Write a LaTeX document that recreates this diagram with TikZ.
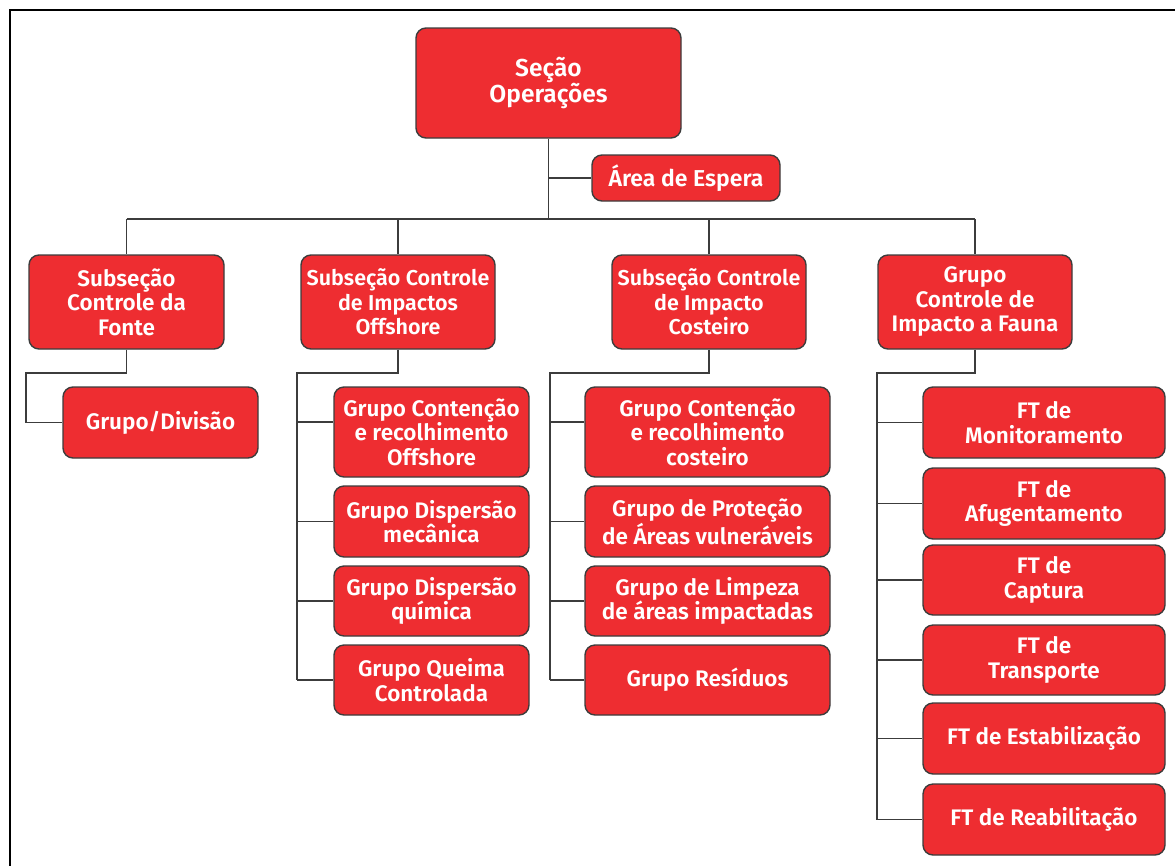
\documentclass[tikz,border=0pt]{standalone}
\usepackage{fontspec}
\setmainfont{Fira Sans}[UprightFont={* SemiBold}]
\definecolor{boxred}{HTML}{EE2D31}
\definecolor{edge}{HTML}{3C3C3C}
\begin{document}
\begin{tikzpicture}[x=1pt,y=-1pt,
  box/.style={draw=edge,line width=1.4pt,fill=boxred,rounded corners=10pt,
    text=white,align=center,inner sep=0pt,
    font=\fontsize{22.5}{24.5}\selectfont},
  link/.style={draw=edge,line width=1.2pt}]
\useasboundingbox (0,0) rectangle (1175,865);
\draw[line width=2.2pt,black] (10,880) -- (10,10) -- (1190,10);

% level 1
\node[box,minimum width=265,minimum height=110,font=\fontsize{24.5}{25.5}\selectfont] (sec) at (548.5,83) {Seção\\Operações};
\node[box,minimum width=188,minimum height=46,font=\fontsize{23}{24}\selectfont] (area) at (686,178) {Área de Espera};

% level 2
\node[box,minimum width=195,minimum height=94] (fonte) at (126.5,302) {Subseção\\Controle da\\Fonte};
\node[box,minimum width=194,minimum height=94,font=\fontsize{21.5}{24.5}\selectfont] (offs) at (398,302) {Subseção Controle\\de Impactos\\Offshore};
\node[box,minimum width=194,minimum height=94,font=\fontsize{21.5}{24.5}\selectfont] (cost) at (709,302) {Subseção Controle\\de Impacto\\Costeiro};
\node[box,minimum width=194,minimum height=94] (fauna) at (975,302) {Grupo\\Controle de\\Impacto a Fauna};

% level 3, column 1
\node[box,minimum width=195,minimum height=71] (grupo) at (160.5,422.5) {Grupo/Divisão};

% column 2
\node[box,minimum width=195,minimum height=90] (o1) at (431.5,432) {Grupo Contenção\\e recolhimento\\Offshore};
\node[box,minimum width=195,minimum height=71] (o2) at (431.5,521.5) {Grupo Dispersão\\mecânica};
\node[box,minimum width=195,minimum height=70] (o3) at (431.5,601) {Grupo Dispersão\\química};
\node[box,minimum width=195,minimum height=70] (o4) at (431.5,680) {Grupo Queima\\Controlada};

% column 3
\node[box,minimum width=245,minimum height=90] (c1) at (707.5,432) {Grupo Contenção\\e recolhimento\\costeiro};
\node[box,minimum width=245,minimum height=71] (c2) at (707.5,521.5) {Grupo de Proteção\\de Áreas vulneráveis};
\node[box,minimum width=245,minimum height=70] (c3) at (707.5,601) {Grupo de Limpeza\\de áreas impactadas};
\node[box,minimum width=245,minimum height=70] (c4) at (707.5,680) {Grupo Resíduos};

% column 4
\node[box,minimum width=242,minimum height=71] (f1) at (1044,422.5) {FT de\\Monitoramento};
\node[box,minimum width=242,minimum height=71] (f2) at (1044,503.5) {FT de\\Afugentamento};
\node[box,minimum width=242,minimum height=70] (f3) at (1044,580) {FT de\\Captura};
\node[box,minimum width=242,minimum height=70] (f4) at (1044,660) {FT de\\Transporte};
\node[box,minimum width=242,minimum height=71] (f5) at (1044,738.5) {FT de Estabilização};
\node[box,minimum width=242,minimum height=71] (f6) at (1044,819.5) {FT de Reabilitação};

% connectors
\coordinate (hub) at (548.5,219);
\draw[link] (sec.south) -- (hub);
\draw[link] (sec.south |- area.west) -- (area.west);
\draw[link] (fonte.north |- hub) -- (fauna.north |- hub);
\draw[link] (fonte.north |- hub) -- (fonte.north);
\draw[link] (offs.north |- hub) -- (offs.north);
\draw[link] (cost.north |- hub) -- (cost.north);
\draw[link] (fauna.north |- hub) -- (fauna.north);

\coordinate (k1) at (26,373);
\draw[link] (fonte.south) |- (k1) |- (grupo.west);

\coordinate (k2) at (297,373);
\coordinate (o1t) at ([yshift=10pt]o1.west);
\draw[link] (offs.south) |- (k2) -- (k2 |- o4.west);
\draw[link] (k2 |- o1t) -- (o1t);
\draw[link] (k2 |- o2.west) -- (o2.west);
\draw[link] (k2 |- o3.west) -- (o3.west);
\draw[link] (k2 |- o4.west) -- (o4.west);

\coordinate (k3) at (550,373);
\coordinate (c1t) at ([yshift=10pt]c1.west);
\draw[link] (cost.south) |- (k3) -- (k3 |- c4.west);
\draw[link] (k3 |- c1t) -- (c1t);
\draw[link] (k3 |- c2.west) -- (c2.west);
\draw[link] (k3 |- c3.west) -- (c3.west);
\draw[link] (k3 |- c4.west) -- (c4.west);

\coordinate (k4) at (877,373);
\draw[link] (fauna.south) |- (k4) -- (k4 |- f6.west);
\foreach \n in {f1,f2,f3,f4,f5,f6}
  \draw[link] (k4 |- \n.west) -- (\n.west);
\end{tikzpicture}
\end{document}
